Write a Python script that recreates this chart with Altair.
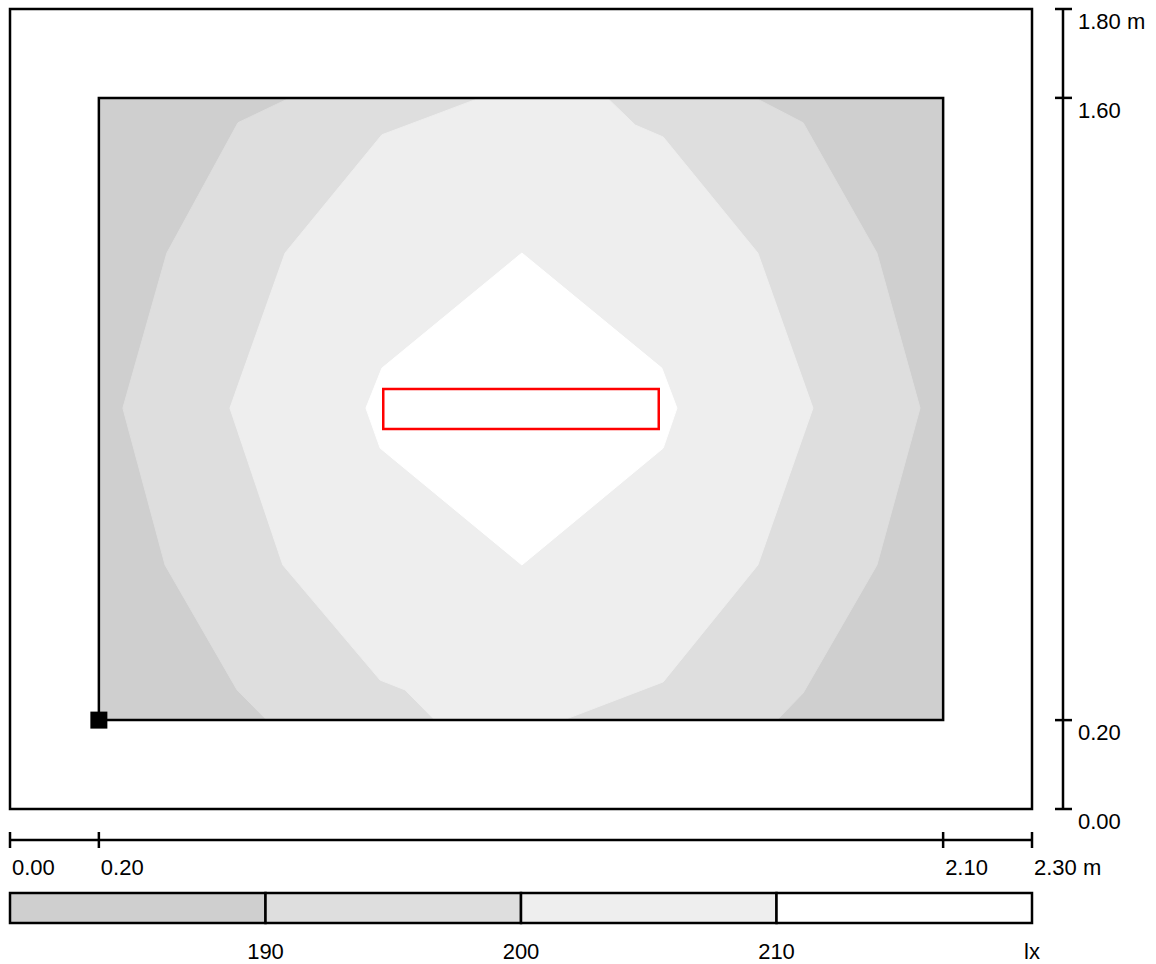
import altair as alt
import pandas as pd

# Room and calculation area (metres)
ROOM_W, ROOM_H = 2.30, 1.80
AREA_X = [0.20, 2.10]
AREA_Y = [0.20, 1.60]

# Isolux boundaries (metres), clockwise from the top edge
ISO190_X = [0.630, 0.513, 0.353, 0.254, 0.349, 0.511, 0.578, 1.726, 1.785, 1.951, 2.048, 1.951, 1.785, 1.677]
ISO190_Y = [1.600, 1.544, 1.251, 0.902, 0.549, 0.268, 0.200, 0.200, 0.261, 0.549, 0.902, 1.251, 1.544, 1.600]
ISO200_X = [1.058, 0.837, 0.619, 0.495, 0.614, 0.833, 0.889, 0.956, 1.245, 1.470, 1.683, 1.807, 1.683, 1.470, 1.407, 1.344]
ISO200_Y = [1.600, 1.517, 1.251, 0.902, 0.549, 0.290, 0.268, 0.200, 0.200, 0.286, 0.549, 0.902, 1.251, 1.512, 1.539, 1.600]
ISO210_X = [1.152, 1.467, 1.501, 1.470, 1.152, 0.833, 0.801, 0.837]
ISO210_Y = [1.251, 0.992, 0.902, 0.812, 0.549, 0.812, 0.902, 0.992]

# Luminaire outline and reference marker
LUMINAIRE_X = [0.84, 1.46]
LUMINAIRE_Y = [0.855, 0.945]
MARKER_X, MARKER_Y = [0.20], [0.20]

# Dimension bars
X_TICKS = [0.00, 0.20, 2.10, 2.30]
X_LABELS = ["0.00", "0.20", "2.10", "2.30 m"]
Y_TICKS = [0.00, 0.20, 1.60, 1.80]
Y_LABELS = ["0.00", "0.20", "1.60", "1.80 m"]

# Illuminance legend (lx)
LEGEND_EDGES = [180, 190, 200, 210, 220]
LEGEND_COLORS = ["#cfcfcf", "#dedede", "#eeeeee", "#ffffff"]
LEGEND_TEXT = ["190", "200", "210", "lx"]

FONT = "Liberation Sans"
FS = 22

xs = alt.Scale(domain=[0, ROOM_W], nice=False, zero=False)
ys = alt.Scale(domain=[0, ROOM_H], nice=False, zero=False)


def box(x0, x1, y0, y1):
    return pd.DataFrame({"x0": [x0], "x1": [x1], "y0": [y0], "y1": [y1]})


def rect_enc(chart):
    return chart.encode(
        x=alt.X("x0:Q", scale=xs, axis=None), x2="x1:Q",
        y=alt.Y("y0:Q", scale=ys, axis=None), y2="y1:Q",
    )


def polygon(xv, yv, color):
    df = pd.DataFrame({"x": xv + xv[:1], "y": yv + yv[:1], "i": list(range(len(xv) + 1))})
    return alt.Chart(df).mark_line(fill=color, stroke=color, strokeWidth=1).encode(
        x=alt.X("x:Q", scale=xs, axis=None),
        y=alt.Y("y:Q", scale=ys, axis=None),
        order=alt.Order("i:Q"),
    )


area = box(AREA_X[0], AREA_X[1], AREA_Y[0], AREA_Y[1])
room = box(0, ROOM_W, 0, ROOM_H)
lum = box(LUMINAIRE_X[0], LUMINAIRE_X[1], LUMINAIRE_Y[0], LUMINAIRE_Y[1])

area_fill = rect_enc(alt.Chart(area).mark_rect(color=LEGEND_COLORS[0]))
iso190 = polygon(ISO190_X, ISO190_Y, LEGEND_COLORS[1])
iso200 = polygon(ISO200_X, ISO200_Y, LEGEND_COLORS[2])
iso210 = polygon(ISO210_X, ISO210_Y, LEGEND_COLORS[3])
area_edge = rect_enc(alt.Chart(area).mark_rect(filled=False, stroke="black", strokeWidth=2.5))
lum_edge = rect_enc(alt.Chart(lum).mark_rect(filled=False, stroke="#ff0000", strokeWidth=2.5))
room_edge = rect_enc(alt.Chart(room).mark_rect(filled=False, stroke="black", strokeWidth=2.5))

marker = alt.Chart(pd.DataFrame({"x": MARKER_X, "y": MARKER_Y})).mark_square(
    size=289, color="black", opacity=1
).encode(x=alt.X("x:Q", scale=xs, axis=None), y=alt.Y("y:Q", scale=ys, axis=None))

# Horizontal dimension bar
xbar = alt.Chart(room).mark_rule(color="black", strokeWidth=2.5).encode(
    x=alt.X("x0:Q", scale=xs, axis=None), x2="x1:Q", y=alt.value(831)
)
xt = pd.DataFrame({"v": X_TICKS, "t": X_LABELS})
xticks = alt.Chart(xt).mark_rule(color="black", strokeWidth=2.5).encode(
    x=alt.X("v:Q", scale=xs, axis=None), y=alt.value(823), y2=alt.value(839)
)
xlabels = alt.Chart(xt).mark_text(
    align="left", baseline="middle", dx=2, font=FONT, fontSize=FS, color="black"
).encode(x=alt.X("v:Q", scale=xs, axis=None), y=alt.value(859), text="t:N")

# Vertical dimension bar
ybar = alt.Chart(room).mark_rule(color="black", strokeWidth=2.5).encode(
    y=alt.Y("y0:Q", scale=ys, axis=None), y2="y1:Q", x=alt.value(1053)
)
yt = pd.DataFrame({"v": Y_TICKS, "t": Y_LABELS})
yticks = alt.Chart(yt).mark_rule(color="black", strokeWidth=2.5).encode(
    y=alt.Y("v:Q", scale=ys, axis=None), x=alt.value(1045), x2=alt.value(1062)
)
ylabels = alt.Chart(yt).mark_text(
    align="left", baseline="middle", dy=13, font=FONT, fontSize=FS, color="black"
).encode(y=alt.Y("v:Q", scale=ys, axis=None), x=alt.value(1068), text="t:N")

plan = alt.layer(
    area_fill, iso190, iso200, iso210, area_edge, lum_edge, marker, room_edge,
    xbar, xticks, xlabels, ybar, yticks, ylabels,
)

# Legend strip on its own illuminance scale
lux = alt.Scale(domain=[LEGEND_EDGES[0], LEGEND_EDGES[-1]], nice=False, zero=False)
bins = pd.DataFrame({"lo": LEGEND_EDGES[:-1], "hi": LEGEND_EDGES[1:], "c": LEGEND_COLORS})
legend_bins = alt.Chart(bins).mark_rect(stroke="black", strokeWidth=2.5).encode(
    x=alt.X("lo:Q", scale=lux, axis=None), x2="hi:Q",
    y=alt.value(884), y2=alt.value(914),
    fill=alt.Fill("c:N", scale=None),
)
legend_labels = alt.Chart(pd.DataFrame({"v": LEGEND_EDGES[1:], "t": LEGEND_TEXT})).mark_text(
    align="center", baseline="middle", font=FONT, fontSize=FS, color="black"
).encode(x=alt.X("v:Q", scale=lux, axis=None), y=alt.value(943), text="t:N")
legend = alt.layer(legend_bins, legend_labels)

chart = alt.layer(plan, legend).resolve_scale(x="independent").properties(
    width=1022,
    height=800,
    autosize=alt.AutoSizeParams(type="none"),
    padding={"left": 10, "top": 9, "right": 124, "bottom": 155},
).configure_view(stroke=None)

chart.save("out.html", embed_options={"renderer": "svg", "actions": False})
